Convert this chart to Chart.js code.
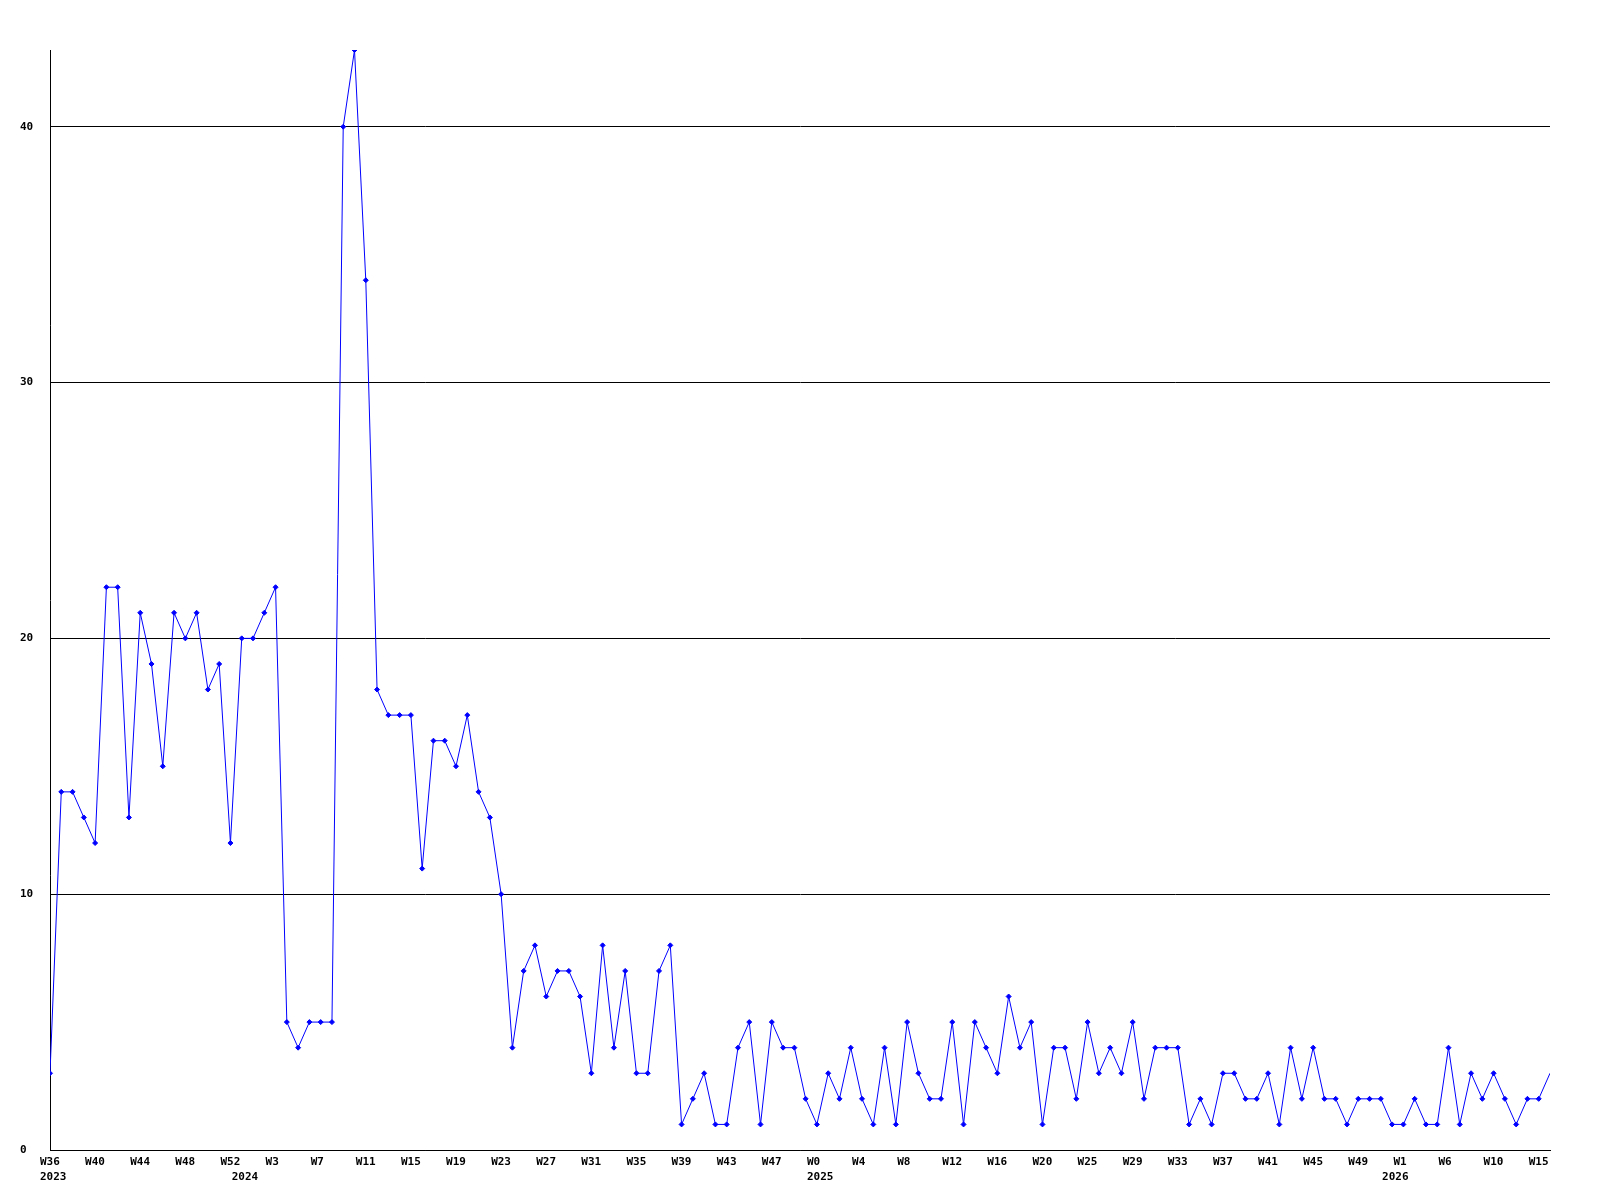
<!doctype html>
<html lang="en">
 <head>
  <meta charset="utf-8">
  <style>
body { margin: 0; background: #fff; }
  </style>
  <title>Weekly count</title>
 </head>
 <body>
  <canvas id="weekchart" width="1600" height="1200"></canvas>

  <script src="https://cdn.jsdelivr.net/npm/chart.js@4.4.1/dist/chart.umd.min.js"></script>
  <script>
// one value per week, W36 2023 .. W15 2026
var counts = [
  3, 14, 14, 13, 12, 22, 22, 13, 21, 19, 15, 21, 20, 21, 18, 19, 12, 20, 20, 21,
  22, 5, 4, 5, 5, 5, 40, 43, 34, 18, 17, 17, 17, 11, 16, 16, 15, 17, 14, 13,
  10, 4, 7, 8, 6, 7, 7, 6, 3, 8, 4, 7, 3, 3, 7, 8, 1, 2, 3, 1,
  1, 4, 5, 1, 5, 4, 4, 2, 1, 3, 2, 4, 2, 1, 4, 1, 5, 3, 2, 2,
  5, 1, 5, 4, 3, 6, 4, 5, 1, 4, 4, 2, 5, 3, 4, 3, 5, 2, 4, 4,
  4, 1, 2, 1, 3, 3, 2, 2, 3, 1, 4, 2, 4, 2, 2, 1, 2, 2, 2, 1,
  1, 2, 1, 1, 4, 1, 3, 2, 3, 2, 1, 2, 2, 3
];

// a week label under every 4th point
var weekLabels = [
  'W36', 'W40', 'W44', 'W48', 'W52', 'W3', 'W7', 'W11', 'W15', 'W19', 'W23', 'W27',
  'W31', 'W35', 'W39', 'W43', 'W47', 'W0', 'W4', 'W8', 'W12', 'W16', 'W20', 'W25',
  'W29', 'W33', 'W37', 'W41', 'W45', 'W49', 'W1', 'W6', 'W10', 'W15'
];

// year labels and the week (point index) where each one sits
var yearLabels = ['2023', '2024', '2025', '2026'];
var yearAt = [0, 17, 68, 119];

var yTicks = [0, 10, 20, 30, 40];

var tickFont = { family: 'DejaVu Sans Mono', size: 11, weight: 'bold' };

const chartConfig = {
  type: 'line',
  data: {
    datasets: [{
      data: counts.map(function (v, i) { return { x: i, y: v }; }),
      borderColor: '#0000ff',
      backgroundColor: '#0000ff',
      borderWidth: 1,
      tension: 0,
      pointStyle: 'rectRot',
      pointRadius: function (ctx) { return ctx.dataIndex === counts.length - 1 ? 0 : 2.5; },
      pointBorderWidth: 1
    }]
  },
  options: {
    responsive: false,
    animation: false,
    devicePixelRatio: 1,
    events: [],
    layout: { padding: { left: 20, right: 50, top: 50, bottom: 20 } },
    scales: {
      x: {
        type: 'linear',
        position: 'bottom',
        min: 0,
        max: counts.length - 1,
        afterBuildTicks: function (axis) {
          axis.ticks = weekLabels.map(function (_, k) { return { value: k * 4 }; });
        },
        afterFit: function (axis) { axis.height = 15; },
        grid: { display: false, drawTicks: false },
        border: { display: true, color: '#000', width: 1 },
        ticks: {
          autoSkip: false,
          maxRotation: 0,
          align: 'start',
          labelOffset: -10,
          padding: 6,
          color: '#000',
          font: tickFont,
          callback: function (value, index) { return weekLabels[index]; }
        }
      },
      x2: {
        type: 'linear',
        position: 'bottom',
        min: 0,
        max: counts.length - 1,
        afterBuildTicks: function (axis) {
          axis.ticks = yearAt.map(function (v) { return { value: v }; });
        },
        afterFit: function (axis) { axis.height = 15; },
        grid: { display: false, drawTicks: false },
        border: { display: false },
        ticks: {
          autoSkip: false,
          maxRotation: 0,
          align: 'start',
          labelOffset: -10,
          padding: 6,
          color: '#000',
          font: tickFont,
          callback: function (value, index) { return yearLabels[index]; }
        }
      },
      y: {
        type: 'linear',
        min: 0,
        max: Math.max.apply(null, counts),
        afterBuildTicks: function (axis) {
          axis.ticks = yTicks.map(function (v) { return { value: v }; });
        },
        afterFit: function (axis) { axis.width = 30; },
        grid: { color: '#000', lineWidth: 1, drawTicks: false },
        border: { display: true, color: '#000', width: 1 },
        ticks: {
          crossAlign: 'far',
          padding: 17,
          color: '#000',
          font: tickFont
        }
      }
    },
    plugins: {
      legend: { display: false },
      title: { display: false },
      tooltip: { enabled: false }
    }
  }
};

const weekChart = new Chart(document.getElementById('weekchart'), chartConfig);
  </script>
 </body>
</html>
